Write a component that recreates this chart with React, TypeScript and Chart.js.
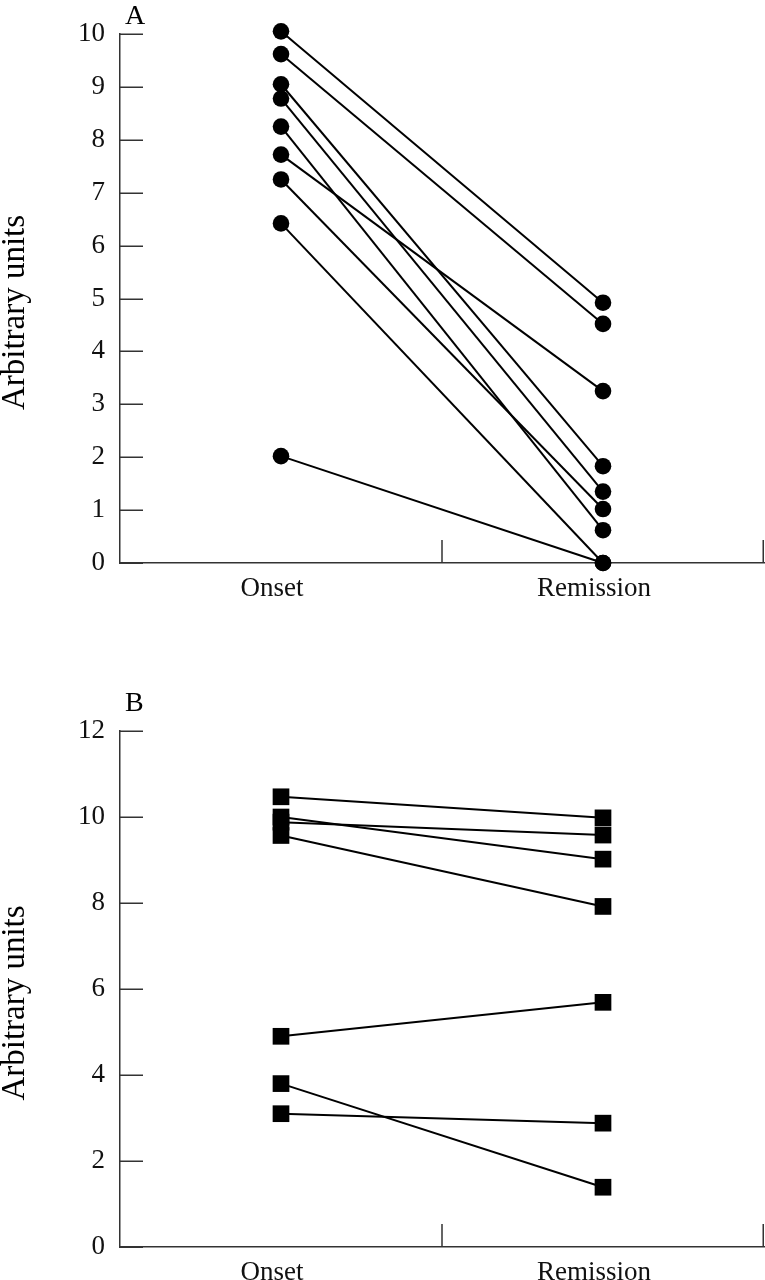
import React, { useEffect, useRef } from 'react';
import { Chart, registerables } from 'chart.js';

Chart.register(...registerables);

// ---- Data ----
const categories = ['Onset', 'Remission'];

// Panel A (circles): paired values, same index = same subject
const panelAOnset = [10.05, 9.62, 9.05, 8.78, 8.25, 7.72, 7.25, 6.42, 2.02];
const panelARemission = [4.92, 4.52, 1.83, 1.35, 0.62, 3.25, 1.02, 0, 0];

// Panel B (squares)
const panelBOnset = [10.47, 10.0, 9.88, 9.57, 4.9, 3.8, 3.1];
const panelBRemission = [9.98, 9.02, 9.58, 7.92, 5.69, 1.39, 2.88];

const yTicksA = { min: 0, max: 10, step: 1 };
const yTicksB = { min: 0, max: 12, step: 2 };

const FONT = '"Liberation Serif", "Times New Roman", serif';

type PanelProps = {
  letter: string;
  onset: number[];
  remission: number[];
  yRange: { min: number; max: number; step: number };
  pointStyle: 'circle' | 'rect';
  pointRadius: number;
  width: number;
  height: number;
  padTop: number;
  xAxisHeight: number;
  letterY: number;
  top: number;
};

function Panel(p: PanelProps) {
  const ref = useRef<HTMLCanvasElement | null>(null);

  useEffect(() => {
    if (!ref.current) return;
    const datasets = p.onset.map((v, i) => ({
      label: `${p.letter}${i + 1}`,
      data: [v, p.remission[i]],
      borderColor: '#000',
      borderWidth: 2,
      backgroundColor: '#000',
      pointStyle: p.pointStyle,
      pointRadius: p.pointRadius,
      pointHoverRadius: p.pointRadius,
      pointBackgroundColor: '#000',
      pointBorderColor: '#000',
      pointBorderWidth: 0,
      fill: false,
      tension: 0,
      clip: false as any,
    }));

    const decor = {
      id: 'decor',
      afterDraw(chart: any) {
        const { ctx, chartArea, scales } = chart;
        const xs = scales.x;
        const ys = scales.y;
        ctx.save();
        ctx.strokeStyle = '#333';
        ctx.lineWidth = 1.5;
        ctx.beginPath();
        ys.ticks.forEach((_t: any, i: number) => {
          const py = Math.round(ys.getPixelForTick(i)) + 0.25;
          ctx.moveTo(chartArea.left, py);
          ctx.lineTo(chartArea.left + 23, py);
        });
        const n = xs.ticks.length;
        for (let i = 1; i <= n; i++) {
          const px =
            i < n
              ? (xs.getPixelForTick(i - 1) + xs.getPixelForTick(i)) / 2
              : chartArea.right - 0.75;
          ctx.moveTo(px, chartArea.bottom);
          ctx.lineTo(px, chartArea.bottom - 23);
        }
        ctx.stroke();

        ctx.fillStyle = '#000';
        ctx.font = `28px ${FONT}`;
        ctx.textAlign = 'left';
        ctx.textBaseline = 'alphabetic';
        ctx.fillText(p.letter, chartArea.left + 5, p.letterY);

        ctx.translate(15, (chartArea.top + chartArea.bottom) / 2 + 14);
        ctx.rotate(-Math.PI / 2);
        ctx.textAlign = 'center';
        ctx.textBaseline = 'middle';
        ctx.font = `33px ${FONT}`;
        ctx.fillText('Arbitrary units', 0, 0);
        ctx.restore();
      },
    };

    const chart = new Chart(ref.current, {
      type: 'line',
      data: { labels: categories, datasets },
      options: {
        responsive: false,
        animation: false,
        events: [],
        layout: { autoPadding: false, padding: { top: p.padTop, right: 1, left: 0, bottom: 0 } },
        plugins: {
          legend: { display: false },
          tooltip: { enabled: false },
          title: { display: false },
        },
        scales: {
          x: {
            type: 'category',
            offset: true,
            grid: { display: false, drawTicks: false, offset: true },
            border: { display: true, color: '#333', width: 1.5 },
            ticks: {
              color: '#111',
              font: { family: FONT, size: 27 },
              padding: 10,
              labelOffset: -9,
              maxRotation: 0,
            },
            afterFit: (s: any) => {
              s.height = p.xAxisHeight;
            },
          },
          y: {
            type: 'linear',
            min: p.yRange.min,
            max: p.yRange.max,
            grid: { display: false, drawTicks: false },
            border: { display: true, color: '#333', width: 1.5 },
            ticks: {
              stepSize: p.yRange.step,
              color: '#111',
              font: { family: FONT, size: 27 },
              padding: 15,
            },
            afterFit: (s: any) => {
              s.width = 120;
            },
          },
        },
      },
      plugins: [decor],
    } as any);
    return () => chart.destroy();
  }, []);

  return (
    <canvas
      ref={ref}
      width={p.width}
      height={p.height}
      style={{ position: 'absolute', left: 0, top: p.top, width: p.width, height: p.height, display: 'block' }}
    />
  );
}

export default function App() {
  return (
    <div style={{ position: 'absolute', left: 0, top: 0, width: 765, height: 1280, background: '#fff', overflow: 'hidden' }}>
      <Panel
        letter="A"
        onset={panelAOnset}
        remission={panelARemission}
        yRange={yTicksA}
        pointStyle="circle"
        pointRadius={8.3}
        width={765}
        height={610}
        padTop={34}
        xAxisHeight={47}
        letterY={24}
        top={0}
      />
      <Panel
        letter="B"
        onset={panelBOnset}
        remission={panelBRemission}
        yRange={yTicksB}
        pointStyle="rect"
        pointRadius={11.8}
        width={765}
        height={640}
        padTop={91}
        xAxisHeight={33}
        letterY={71}
        top={640}
      />
    </div>
  );
}
